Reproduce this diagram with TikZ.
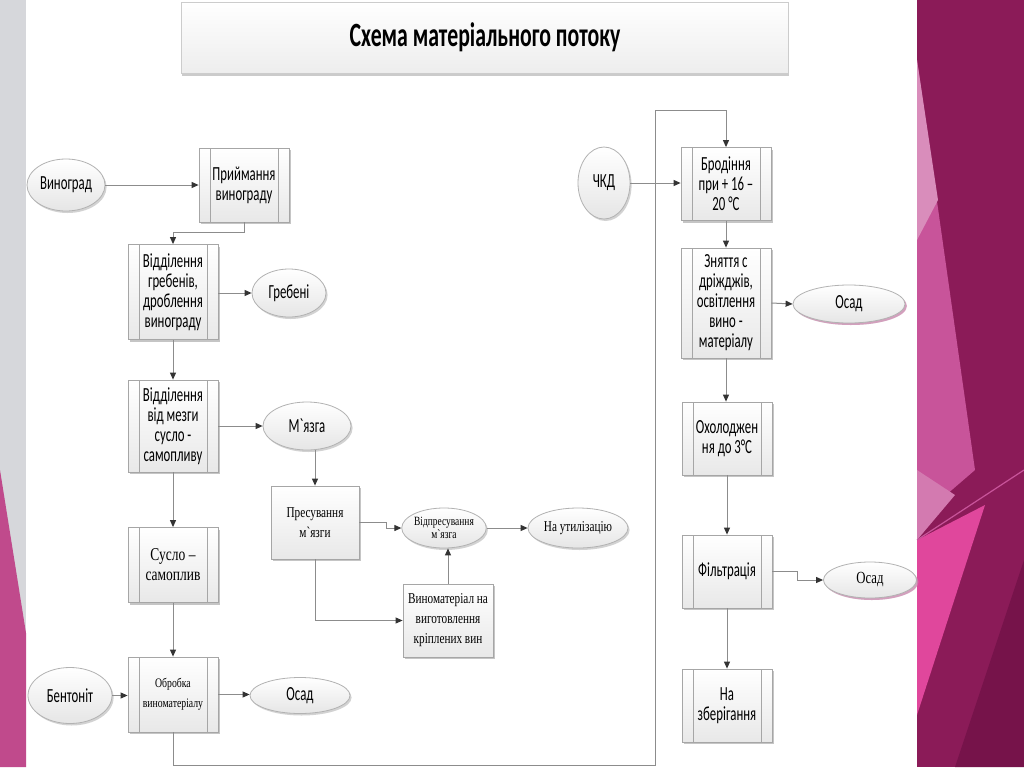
\documentclass[tikz,border=0pt]{standalone}
\usepackage{fontspec}
\usetikzlibrary{shapes.geometric,arrows.meta,shadows}
\newfontfamily\sfc[FakeStretch=0.64]{Carlito}
\newfontfamily\rmc[FakeStretch=0.75]{Liberation Serif}

\definecolor{stripgray}{HTML}{D6D7DB}
\definecolor{facetleft}{HTML}{C04A8C}
\definecolor{facetdark}{HTML}{8B1B58}
\definecolor{facetdeep}{HTML}{76134A}
\definecolor{facetmid}{HTML}{C8549A}
\definecolor{facetlight}{HTML}{D98DBB}
\definecolor{facetsoft}{HTML}{D37AB0}
\definecolor{facetbright}{HTML}{E0479C}

\tikzset{
	flow/.style={draw=black!45, line width=0.5pt, -{Triangle[length=3.5pt,width=3pt,color=black!80]}},
	basebox/.style={rectangle, draw=black!35, line width=0.4pt, top color=white, bottom color=black!9,
		inner sep=1pt, align=center, text=black,
		drop shadow={shadow xshift=1.2pt, shadow yshift=-1.2pt, fill=black!45, opacity=0.5}},
	proc/.style={basebox, minimum width=45pt, minimum height=37pt, font=\sfc\fontsize{10}{10}\selectfont,
		path picture={
			\draw[black!35, line width=0.4pt]
				([xshift=5.5pt]path picture bounding box.north west) -- ([xshift=5.5pt]path picture bounding box.south west)
				([xshift=-5.5pt]path picture bounding box.north east) -- ([xshift=-5.5pt]path picture bounding box.south east);
		}},
	plainbox/.style={basebox, minimum width=45pt, minimum height=36.5pt, font=\rmc\fontsize{7.5}{10}\selectfont},
	blob/.style={ellipse, draw=black!30, line width=0.4pt, top color=white, bottom color=black!10,
		inner sep=0pt, align=center, text=black, font=\sfc\fontsize{10}{10}\selectfont,
		drop shadow={shadow xshift=0.8pt, shadow yshift=-1pt, fill=black!35, opacity=0.5}},
	pinkblob/.style={blob, drop shadow={shadow xshift=1pt, shadow yshift=-1pt, fill=facetleft!70, opacity=0.6}},
	titlebox/.style={rectangle, draw=black!20, top color=white, bottom color=black!7,
		minimum width=303.5pt, minimum height=35.5pt, text=black,
		font=\sfc\bfseries\fontsize{17}{18}\selectfont,
		drop shadow={shadow xshift=0pt, shadow yshift=-1.5pt, fill=black!40, opacity=0.5}},
}

\begin{document}
\begin{tikzpicture}[x=0.5pt,y=-0.5pt]
\useasboundingbox (0,0) rectangle (1024,767);

% background of the slide
\fill[white] (0,0) rectangle (1024,767);
\fill[stripgray] (0,0) rectangle (26,767);
\fill[facetleft] (0,470) -- (26,633) -- (26,767) -- (0,767) -- cycle;
\fill[facetdark] (917,0) rectangle (1024,767);
\fill[facetmid] (917,60) -- (975,470) -- (917,520) -- cycle;
\fill[facetlight] (917,60) -- (938,200) -- (917,240) -- cycle;
\fill[facetsoft] (917,470) -- (955,495) -- (917,540) -- cycle;
\fill[facetbright] (917,540) -- (985,505) -- (917,715) -- cycle;
\draw[facetmid, line width=0.6pt] (917,540) -- (1024,470);
\fill[facetdeep] (1024,560) -- (1024,767) -- (955,767) -- cycle;

\node[titlebox] (ttl) at (485,37.5) {Схема матеріального потоку};

\pgfmathsetmacro{\colA}{173}
\pgfmathsetmacro{\colB}{315}
\pgfmathsetmacro{\colC}{448}
\pgfmathsetmacro{\colD}{727}

% left branch
\node[blob, minimum width=39pt, minimum height=26pt] (vinograd) at (66,185) {Виноград};
\node[proc] (pryim) at (244,185) {Приймання\\винограду};
\node[proc, minimum height=47.5pt] (viddil) at (\colA,292) {Відділення\\гребенів,\\дроблення\\винограду};
\node[blob, minimum width=37pt, minimum height=24pt] (grebeni) at (289,293) {Гребені};
\node[proc, minimum height=46pt] (mezga) at (\colA,426) {Відділення\\від мезги\\сусло -\\самопливу};
\node[blob, minimum width=44pt, minimum height=24pt] (myazga) at (307,426) {М`язга};
\node[proc, font=\rmc\fontsize{9}{10}\selectfont, minimum height=37.5pt] (suslo) at (\colA,565) {Сусло –\\самоплив};
\node[proc, font=\rmc\fontsize{6.5}{10}\selectfont, minimum height=37.5pt] (obrobka) at (\colA,694.5) {Обробка\\виноматеріалу};
\node[blob, minimum width=42pt, minimum height=28pt] (bentonit) at (70,695.5) {Бентоніт};
\node[blob, minimum width=50pt, minimum height=18pt] (osadA) at (300,695.5) {Осад};

% pressing of the pomace
\node[plainbox, minimum width=44pt] (presuv) at (\colB,522.5) {Пресування\\м`язги};
\node[blob, font=\rmc\fontsize{6.3}{6.7}\selectfont, minimum width=42pt, minimum height=20pt] (vidpres) at (444,528) {Відпресування\\м`язга};
\node[blob, font=\rmc\fontsize{7.5}{8}\selectfont, minimum width=50pt, minimum height=20pt] (utiliz) at (578,528) {На утилізацію};
\node[plainbox] (vynomat) at (\colC,620.5) {Виноматеріал на\\виготовлення\\кріплених вин};

% right branch
\node[blob, minimum width=26pt, minimum height=36pt] (chkd) at (604,183) {ЧКД};
\node[proc, minimum height=36.5pt] (brod) at (726,184) {Бродіння\\при + 16 –\\20 °C};
\node[proc, minimum height=55pt] (znyat) at (726,303) {Зняття с\\дріжджів,\\освітлення\\вино -\\матеріалу};
\node[pinkblob, minimum width=56pt, minimum height=19pt] (osadB) at (849,304) {Осад};
\node[proc, minimum height=36.5pt] (okhol) at (\colD,438.5) {Охолоджен\\ня до 3°C};
\node[proc, minimum height=36.5pt] (filtr) at (\colD,571.5) {Фільтрація};
\node[pinkblob, font=\rmc\fontsize{8.5}{9}\selectfont, minimum width=46.5pt, minimum height=18pt] (osadC) at (870,580) {Осад};
\node[proc, minimum height=36.5pt] (zberig) at (\colD,705.5) {На\\зберігання};

\coordinate (loopA) at (655,765);
\coordinate (loopB) at (655,110);

\draw[flow] (vinograd.east) -- (vinograd.east -| pryim.west);
\draw[flow] (pryim.south) -- ++(0,10) -| (viddil.north);
\draw[flow] (viddil.east |- grebeni.west) -- (grebeni.west);
\draw[flow] (viddil.south) -- (mezga.north);
\draw[flow] (mezga.east) -- (myazga.west);
\draw[flow] (presuv.north |- myazga.south) -- (presuv.north);
\draw[flow] (presuv.east) -- ++(27,0) |- (vidpres.west);
\draw[flow] (vidpres.east) -- (utiliz.west);
\draw[flow] (vynomat.north) -- (vynomat.north |- vidpres.south);
\draw[flow] (presuv.south) |- (vynomat.west);
\draw[flow] (mezga.south) -- (suslo.north);
\draw[flow] (suslo.south) -- (obrobka.north);
\draw[flow] (bentonit.east) -- (bentonit.east -| obrobka.west);
\draw[flow] (obrobka.east) -- (obrobka.east -| osadA.west);
\draw[flow] (obrobka.south) |- (loopA) -- (loopB) -| (brod.north);

\draw[flow] (chkd.east) -- (chkd.east -| brod.west);
\draw[flow] (brod.south) -- (znyat.north);
\draw[flow] (znyat.east) -- (osadB.west);
\draw[flow] (znyat.south) -- (znyat.south |- okhol.north);
\draw[flow] (okhol.south) -- (filtr.north);
\draw[flow] (filtr.east) -- ++(25,0) |- (osadC.west);
\draw[flow] (filtr.south) -- (zberig.north);
\end{tikzpicture}
\end{document}
